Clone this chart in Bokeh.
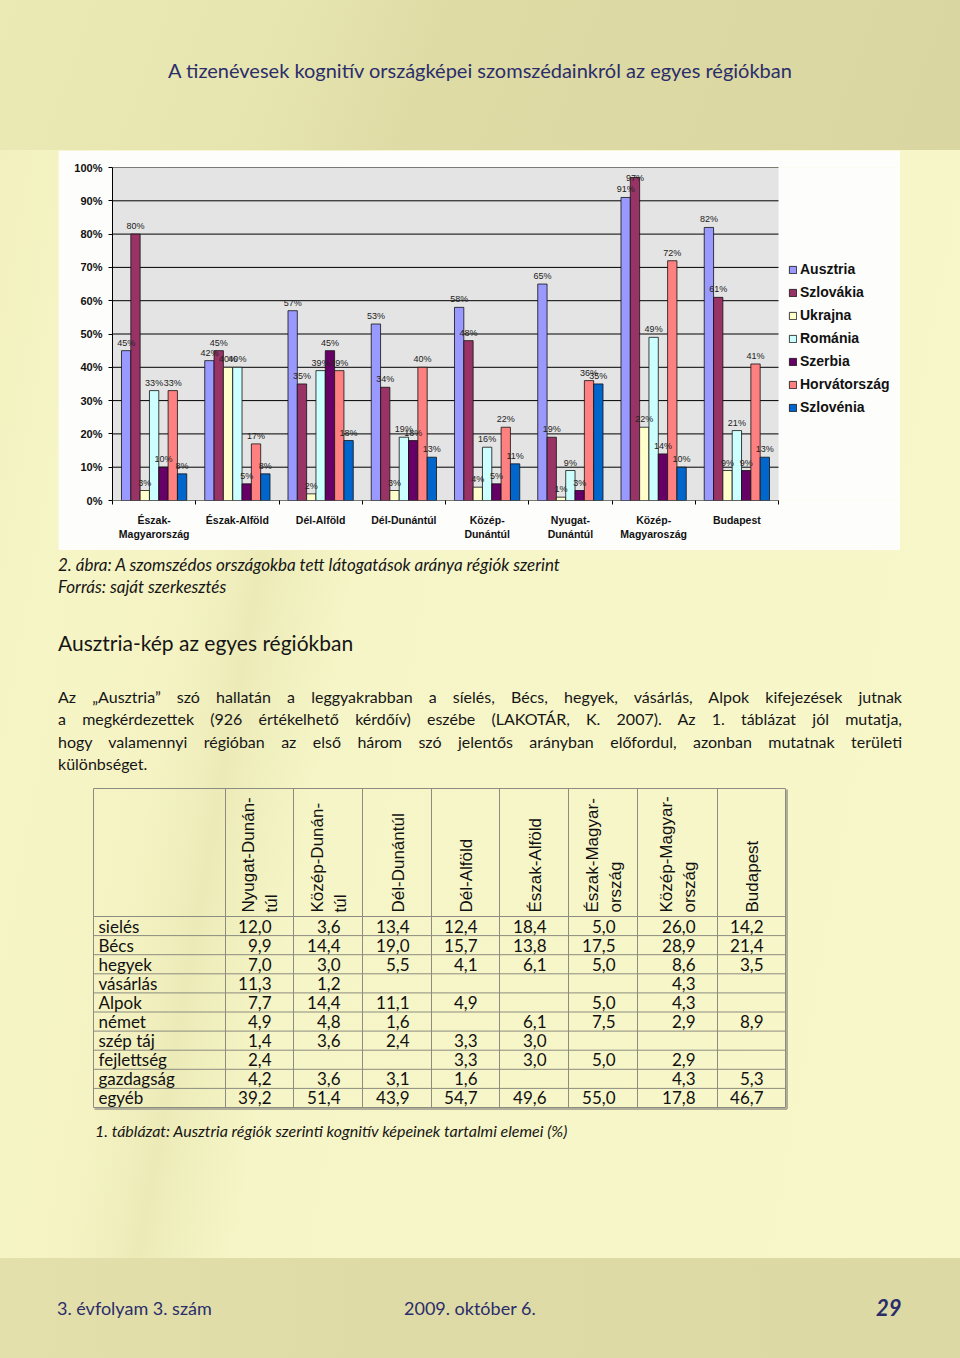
import numpy as np
from bokeh.plotting import figure
from bokeh.models import (Range1d, FixedTicker, Legend, LegendItem, Div, Spacer,
                          ColumnDataSource, PrintfTickFormatter, GlobalInlineStyleSheet)
from bokeh.layouts import column, row
from bokeh.embed import file_html
from bokeh.resources import INLINE
from bokeh.core.properties import value

# ---------------- chart data ----------------
regions = ["Észak-\nMagyarország", "Észak-Alföld", "Dél-Alföld", "Dél-Dunántúl",
           "Közép-\nDunántúl", "Nyugat-\nDunántúl", "Közép-\nMagyaroszág", "Budapest"]
countries = ["Ausztria", "Szlovákia", "Ukrajna", "Románia", "Szerbia", "Horvátország", "Szlovénia"]
ausztria = [45, 42, 57, 53, 58, 65, 91, 82]
szlovakia = [80, 45, 35, 34, 48, 19, 97, 61]
ukrajna = [3, 40, 2, 3, 4, 1, 22, 9]
romania = [33, 40, 39, 19, 16, 9, 49, 21]
szerbia = [10, 5, 45, 18, 5, 3, 14, 9]
horvatorszag = [33, 17, 39, 40, 22, 36, 72, 41]
szlovenia = [8, 8, 18, 13, 11, 35, 10, 13]
series = [ausztria, szlovakia, ukrajna, romania, szerbia, horvatorszag, szlovenia]
colors = ["#9999ff", "#993366", "#ffffcc", "#ccffff", "#660066", "#ff8080", "#0066cc"]
y_ticks = list(range(0, 101, 10))

# ---------------- table data ----------------
tbl_rows = ["sielés", "Bécs", "hegyek", "vásárlás", "Alpok", "német", "szép táj",
            "fejlettség", "gazdagság", "egyéb"]
tbl_cols = ["Nyugat-Dunán-\ntúl", "Közép-Dunán-\ntúl", "Dél-Dunántúl", "Dél-Alföld",
            "Észak-Alföld", "Észak-Magyar-\nország", "Közép-Magyar-\nország", "Budapest"]
nyugat_dunantul = ["12,0", "9,9", "7,0", "11,3", "7,7", "4,9", "1,4", "2,4", "4,2", "39,2"]
kozep_dunantul = ["3,6", "14,4", "3,0", "1,2", "14,4", "4,8", "3,6", "", "3,6", "51,4"]
del_dunantul = ["13,4", "19,0", "5,5", "", "11,1", "1,6", "2,4", "", "3,1", "43,9"]
del_alfold = ["12,4", "15,7", "4,1", "", "4,9", "", "3,3", "3,3", "1,6", "54,7"]
eszak_alfold = ["18,4", "13,8", "6,1", "", "", "6,1", "3,0", "3,0", "", "49,6"]
eszak_magyarorszag = ["5,0", "17,5", "5,0", "", "5,0", "7,5", "", "5,0", "", "55,0"]
kozep_magyarorszag = ["26,0", "28,9", "8,6", "4,3", "4,3", "2,9", "", "2,9", "4,3", "17,8"]
budapest = ["14,2", "21,4", "3,5", "", "", "8,9", "", "", "5,3", "46,7"]
tbl_values = [nyugat_dunantul, kozep_dunantul, del_dunantul, del_alfold, eszak_alfold,
              eszak_magyarorszag, kozep_magyarorszag, budapest]

# ---------------- page texts ----------------
page_title = "A tizenévesek kognitív országképei szomszédainkról az egyes régiókban"
fig_caption = ["2. ábra: A szomszédos országokba tett látogatások aránya régiók szerint",
               "Forrás: saját szerkesztés"]
section_title = "Ausztria-kép az egyes régiókban"
paragraph = ["Az „Ausztria” szó hallatán a leggyakrabban a síelés, Bécs, hegyek, vásárlás, Alpok kifejezések jutnak",
             "a megkérdezettek (926 értékelhető kérdőív) eszébe (LAKOTÁR, K. 2007). Az 1. táblázat jól mutatja,",
             "hogy valamennyi régióban az első három szó jelentős arányban előfordul, azonban mutatnak területi",
             "különbséget."]
tbl_caption = "1. táblázat: Ausztria régiók szerinti kognitív képeinek tartalmi elemei (%)"
footer = ["3. évfolyam 3. szám", "2009. október 6.", "29"]

ARIAL = "Liberation Sans"
PAGE_FONT = "Lato"
NAVY = "#2b2d6b"
Z = (0, 0, 0, 0)

# ================= bar chart =================
n = len(regions)
PLOT_W, LEFT = 842, 54
unit_px = 666 / n                       # width of one region group on screen
x_end = (PLOT_W - LEFT) / unit_px       # room to the right of the plot area for the legend
p = figure(width=PLOT_W, height=400, x_range=Range1d(0, x_end), y_range=Range1d(0, 100),
           output_backend="svg", toolbar_location=None, margin=Z,
           min_border_left=LEFT, min_border_right=0, min_border_top=17, min_border_bottom=50)
p.background_fill_color = "#fdfdfc"
p.border_fill_color = "#fdfdfc"
p.outline_line_color = None

# grey plot area and horizontal grid lines (only over the category span)
p.quad(left=[0], right=[n], bottom=[0], top=[100], fill_color="#e4e4e4", line_color=None)
p.segment(x0=[0] * len(y_ticks), y0=y_ticks, x1=[n] * len(y_ticks), y1=y_ticks,
          line_color="#000000", line_width=1)

bw = 0.112
items = []
label_sources = []
for j, (name, vals, col) in enumerate(zip(countries, series, colors)):
    xs = [i + 0.5 + (j - 3) * bw for i in range(n)]
    src = ColumnDataSource(dict(x=xs, top=vals, label_y=[min(v, 94.5) for v in vals],
                                label=[f"{v}%" for v in vals]))
    r = p.vbar(x="x", top="top", width=bw, source=src, fill_color=col,
               line_color="#111111", line_width=0.8)
    label_sources.append(src)
    items.append(LegendItem(label=name, renderers=[r]))

for src in label_sources:
    p.text(x="x", y="label_y", text="label", source=src, text_font=value(ARIAL),
           text_font_size="9px", text_align="center", text_baseline="bottom",
           y_offset=-3, text_color="#222222")

legend = Legend(items=items, location=(676, 83), label_text_font=ARIAL,
                label_text_font_style="bold", label_text_font_size="14px",
                label_text_color="#111111", glyph_width=9, glyph_height=9,
                label_height=20, spacing=3, padding=2, margin=0, label_standoff=3,
                border_line_color=None, background_fill_alpha=0)
p.add_layout(legend)

p.xaxis.ticker = FixedTicker(ticks=[i + 0.5 for i in range(n)], minor_ticks=list(range(n + 1)))
p.xaxis.major_label_overrides = {i + 0.5: regions[i] for i in range(n)}
p.xaxis.major_tick_out = 0
p.xaxis.major_tick_in = 0
p.xaxis.minor_tick_out = 4
p.xaxis.minor_tick_in = 0
p.xaxis.minor_tick_line_color = "#000000"
p.xaxis.major_label_standoff = 9
p.xaxis.major_label_text_font = ARIAL
p.xaxis.major_label_text_font_style = "bold"
p.xaxis.major_label_text_font_size = "10.5px"
p.xaxis.major_label_text_color = "#111111"
p.xaxis.axis_line_color = None

p.yaxis.ticker = FixedTicker(ticks=y_ticks)
p.yaxis.formatter = PrintfTickFormatter(format="%d%%")
p.yaxis.major_tick_out = 4
p.yaxis.major_tick_in = 0
p.yaxis.minor_tick_line_color = None
p.yaxis.major_label_text_font = ARIAL
p.yaxis.major_label_text_font_style = "bold"
p.yaxis.major_label_text_font_size = "11px"
p.yaxis.major_label_text_color = "#111111"
p.yaxis.major_label_standoff = 6
p.yaxis.axis_line_color = "#000000"
p.grid.visible = False

# ================= table =================
col_w = [132, 68, 69, 69, 68, 69, 69, 80, 68]
edges = np.concatenate([[0], np.cumsum(col_w)]).tolist()
tbl_h = 319
head_h = 128
row_h = (tbl_h - head_h) / len(tbl_rows)
tw = edges[-1]

t = figure(width=700, height=325, x_range=Range1d(-4, 696), y_range=Range1d(-3, 322),
           output_backend="svg", toolbar_location=None, margin=Z,
           min_border_left=0, min_border_right=0, min_border_top=0, min_border_bottom=0)
t.axis.visible = False
t.grid.visible = False
t.outline_line_color = None
t.background_fill_alpha = 0
t.border_fill_alpha = 0

LINE = "#8c8c80"
t.segment(x0=edges, y0=[0] * len(edges), x1=edges, y1=[tbl_h] * len(edges),
          line_color=LINE, line_width=1)
hy = [tbl_h] + [tbl_h - head_h - k * row_h for k in range(len(tbl_rows) + 1)]
t.segment(x0=[0] * len(hy), y0=hy, x1=[tw] * len(hy), y1=hy, line_color=LINE, line_width=1)
t.segment(x0=[tw + 1.5, 1], y0=[-1.5, -1.5], x1=[tw + 1.5, tw + 1.5], y1=[tbl_h - 1, -1.5],
          line_color="#b0ae98", line_width=2)

row_c = [tbl_h - head_h - (k + 0.5) * row_h for k in range(len(tbl_rows))]
t.text(x=[5] * len(tbl_rows), y=row_c, text=tbl_rows, text_font=value(PAGE_FONT),
       text_font_size="17px", text_baseline="middle", text_align="left", text_color="#111111")

vx, vy, vt = [], [], []
for ci, vals in enumerate(tbl_values):
    for ri, v in enumerate(vals):
        if v:
            vx.append(edges[ci + 2] - 22)
            vy.append(row_c[ri])
            vt.append(v)
t.text(x=vx, y=vy, text=vt, text_font=value(PAGE_FONT), text_font_size="17px",
       text_baseline="middle", text_align="right", text_color="#111111")

hx, hyy, ht = [], [], []
for ci, lab in enumerate(tbl_cols):
    c = (edges[ci + 1] + edges[ci + 2]) / 2
    parts = lab.split("\n")
    if len(parts) == 1:
        hx.append(c + 1)
        hyy.append(tbl_h - head_h + 4)
        ht.append(parts[0])
    else:
        for k, part in enumerate(parts):
            hx.append(c - 11 + 23 * k)
            hyy.append(tbl_h - head_h + 4)
            ht.append(part)
t.text(x=hx, y=hyy, text=ht, angle=np.pi / 2, text_font=value(ARIAL), text_font_size="17px",
       text_baseline="middle", text_align="left", text_color="#111111")

# ================= page texts (Divs) =================
def line(txt, top, left=0, size=16, lh=22, extra=""):
    return (f'<div style="position:absolute;left:{left}px;top:{top - lh / 2}px;'
            f'font-family:{PAGE_FONT};font-size:{size}px;line-height:{lh}px;{extra}">{txt}</div>')

global_css = GlobalInlineStyleSheet(css="html,body{margin:0 !important;padding:0 !important;}")

header = Div(width=960, height=150, margin=Z,
             text=('<div style="position:relative;width:960px;height:150px;">'
                   + line(page_title, 70, 0, 20, 24,
                          f"width:960px;text-align:center;color:{NAVY};")
                   + '</div>'),
             styles={"background": "linear-gradient(110deg, #ebeab4 0%, #e7e5af 30%, #dedba5 45%, #d9d6a1 100%)",
                     "padding": "0px", "margin": "0px"},
             stylesheets=[global_css])

mid_html = '<div style="position:relative;width:960px;height:235px;color:#161616;">'
mid_html += line(fig_caption[0], 15, 58, 17, 22, "font-style:italic;white-space:nowrap;")
mid_html += line(fig_caption[1], 37, 58, 17, 22, "font-style:italic;white-space:nowrap;")
mid_html += line(section_title, 93, 58, 21, 26, "white-space:nowrap;")
for k, (txt, cy) in enumerate(zip(paragraph, [147, 169, 192, 214])):
    just = "text-align:justify;text-align-last:justify;" if k < len(paragraph) - 1 else ""
    mid_html += line(txt, cy, 58, 16, 22, f"width:844px;{just}")
mid_html += '</div>'
mid = Div(width=960, height=235, text=mid_html, margin=Z, styles={"padding": "0px", "margin": "0px"})

after_html = ('<div style="position:relative;width:960px;height:148px;color:#161616;">'
              + line(tbl_caption, 21, 95, 16, 22, "font-style:italic;white-space:nowrap;")
              + '</div>')
after = Div(width=960, height=148, text=after_html, margin=Z, styles={"padding": "0px", "margin": "0px"})

foot_html = (f'<div style="position:relative;width:960px;height:100px;color:{NAVY};">'
             + line(footer[0], 50, 57, 18, 24, "white-space:nowrap;")
             + line(footer[1], 50, 404, 18, 24, "white-space:nowrap;")
             + line(footer[2], 50, 876, 22, 26, "white-space:nowrap;font-weight:bold;font-style:italic;")
             + '</div>')
foot = Div(width=960, height=100, text=foot_html, margin=Z,
           styles={"background": "linear-gradient(90deg, #e3e0ab 0%, #dedba6 40%, #dcd9a4 100%)",
                   "padding": "0px", "margin": "0px"})

chart_row = row(Spacer(width=58, height=400, margin=Z), p, Spacer(width=60, height=400, margin=Z),
                spacing=0, margin=Z, width=960, height=400)
table_row = row(Spacer(width=89, height=325, margin=Z), t, Spacer(width=171, height=325, margin=Z),
                spacing=0, margin=Z, width=960, height=325)

page = column(header, chart_row, mid, table_row, after, foot, width=960, height=1358,
              spacing=0, margin=Z,
              styles={"background": "linear-gradient(100deg, #f1efbc 0%, #f6f5c6 12%, #f5f3c3 24%, #ecebb8 30%, #f6f5c7 38%, #f8f7ca 100%)",
                      "position": "absolute", "left": "0px", "top": "0px"})

open("out.html", "w").write(file_html(page, INLINE))
